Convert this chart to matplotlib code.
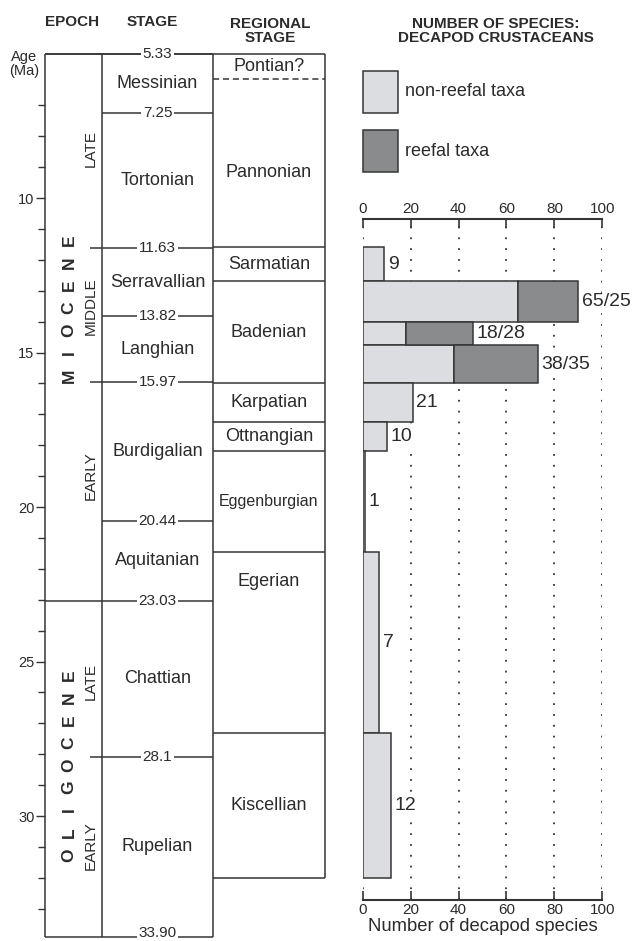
import matplotlib
matplotlib.use("Agg")
import matplotlib.pyplot as plt
from matplotlib.patches import Rectangle

plt.rcParams['font.family'] = ['Liberation Sans', 'DejaVu Sans']

# Chronostratigraphie (Alter in Ma)
stage_names = ["Messinian", "Tortonian", "Serravallian", "Langhian",
               "Burdigalian", "Aquitanian", "Chattian", "Rupelian"]
stage_bounds = [5.33, 7.25, 11.63, 13.82, 15.97, 20.44, 23.03, 28.1, 33.90]
bound_labels = ["5.33", "7.25", "11.63", "13.82", "15.97", "20.44", "23.03", "28.1", "33.90"]
bound_rank = ["top", "stage", "sub", "stage", "sub", "stage", "epoch", "sub", "bottom"]

regional_names = ["Pontian?", "Pannonian", "Sarmatian", "Badenian", "Karpatian",
                  "Ottnangian", "Eggenburgian", "Egerian", "Kiscellian"]
regional_bounds = [5.33, 6.15, 11.6, 12.7, 16.0, 17.25, 18.2, 21.45, 27.3, 32.0]

epochs = ["MIOCENE", "OLIGOCENE"]
epoch_label_age = [13.56, 28.35]
subepochs = ["LATE", "MIDDLE", "EARLY", "LATE", "EARLY"]
subepoch_label_age = [8.4, 13.5, 19.0, 25.66, 30.97]

# Artenzahlen Decapoda
bar_top = [11.6, 12.7, 14.0, 14.75, 16.0, 17.25, 18.2, 21.45, 27.3]
bar_bottom = [12.7, 14.0, 14.75, 16.0, 17.25, 18.2, 21.45, 27.3, 32.0]
non_reefal = [9, 65, 18, 38, 21, 10, 1, 7, 12]
reefal = [0, 25, 28, 35, 0, 0, 0, 0, 0]
bar_labels = ["9", "65/25", "18/28", "38/35", "21", "10", "1", "7", "12"]

# Layout
W, H = 632, 941
PX_TOP, PX_PER_MA = 53.7, 30.9
LIGHT, DARK = '#dcdde0', '#8a8b8d'
EDGE, INK = '#353535', '#2b2b2b'
LW = 1.1


def fig_y(age):
    return 1 - (PX_TOP + (age - 5.33) * PX_PER_MA) / H


def ftext(x, y, s, **kw):
    kw.setdefault('color', INK)
    fig.text(x / W, 1 - y / H, s, **kw)


fig = plt.figure(figsize=(W / 100, H / 100), dpi=100)

# --- Stratigraphische Säule ---
ax = fig.add_axes([45 / W, fig_y(33.9), 280 / W, fig_y(5.33) - fig_y(33.9)])
ax.set_xlim(0, 280)
ax.set_ylim(33.9, 5.33)
for s in ax.spines.values():
    s.set_visible(False)
ax.set_xticks([])
ax.set_yticks([10, 15, 20, 25, 30])
ax.set_yticks(range(7, 34), minor=True)
ax.tick_params(axis='y', which='major', length=6.5, width=1, color=EDGE,
               labelsize=10.5, labelcolor=INK, pad=1)
ax.tick_params(axis='y', which='minor', length=5, width=1, color=EDGE)

X_STAGE, X_SUB, X_REG, X_END = 57, 45, 168, 280
line_kw = dict(color=EDGE, lw=LW, clip_on=False)

ax.vlines([0, X_STAGE, X_REG], stage_bounds[0], stage_bounds[-1], **line_kw)
ax.vlines(X_END, regional_bounds[0], regional_bounds[-1], **line_kw)
ax.hlines(stage_bounds[0], 0, X_END, **line_kw)

start_x = {"top": 0, "stage": X_STAGE, "sub": X_SUB, "epoch": 0, "bottom": 0}
for age, lab, rank in zip(stage_bounds, bound_labels, bound_rank):
    ax.hlines(age, start_x[rank], X_REG, **line_kw)
    # unterstes Label leicht anheben, damit es nicht am Bildrand abgeschnitten wird
    ty = age - 0.1 if rank == "bottom" else age
    ax.text((X_STAGE + X_REG) / 2, ty, lab, ha='center', va='center', fontsize=11,
            color=INK, zorder=5, clip_on=False,
            bbox=dict(facecolor='white', edgecolor='none', pad=1.2))

for name, a0, a1 in zip(stage_names, stage_bounds[:-1], stage_bounds[1:]):
    ax.text((X_STAGE + X_REG) / 2, (a0 + a1) / 2, name, ha='center', va='center',
            fontsize=13, color=INK)

ax.hlines(regional_bounds[1], X_REG, X_END, color=EDGE, lw=LW, linestyles=(0, (4, 2.5)))
ax.hlines(regional_bounds[2:], X_REG, X_END, **line_kw)

reg_label_age = [(a0 + a1) / 2 for a0, a1 in zip(regional_bounds[:-1], regional_bounds[1:])]
reg_label_age[1] = 9.16   # Pannonian etwas tiefer
reg_label_age[7] = 22.4   # Egerian oben im Feld
for name, age in zip(regional_names, reg_label_age):
    fs = 11.5 if name == "Eggenburgian" else 13
    ax.text((X_REG + X_END) / 2, age, name, ha='center', va='center', fontsize=fs, color=INK)

# Epochen mit gesperrten Buchstaben
spacing = 22.5 / PX_PER_MA
for word, mid in zip(epochs, epoch_label_age):
    n = len(word)
    for i, ch in enumerate(word):
        ax.text(24, mid + ((n - 1) / 2 - i) * spacing, ch, rotation=90, ha='center',
                va='center', fontsize=12.5, fontweight='bold', color=INK)

for name, age in zip(subepochs, subepoch_label_age):
    ax.text(46, age, name, rotation=90, ha='center', va='center', fontsize=11, color=INK)

# --- Balkendiagramm ---
ax2_top, ax2_bot = 10.68, 32.72
ax2 = fig.add_axes([362.7 / W, fig_y(ax2_bot), 239.6 / W, fig_y(ax2_top) - fig_y(ax2_bot)])
ax2.set_xlim(0, 100)
ax2.set_ylim(ax2_bot, ax2_top)
ax2.set_yticks([])
ax2.set_xticks(range(0, 101, 20))
ax2.grid(axis='x', linestyle=(0, (1, 5)), color=EDGE, lw=1.3)
ax2.set_axisbelow(True)
for side in ['left', 'right']:
    ax2.spines[side].set_visible(False)
for side in ['top', 'bottom']:
    ax2.spines[side].set_color(EDGE)
    ax2.spines[side].set_linewidth(1.5)
ax2.tick_params(axis='x', top=True, labeltop=True, bottom=True, direction='in',
                length=6.5, width=1.2, color=EDGE, labelsize=11, labelcolor=INK, pad=2)

centers = [(a + b) / 2 for a, b in zip(bar_top, bar_bottom)]
heights = [b - a for a, b in zip(bar_top, bar_bottom)]
ax2.barh(centers, non_reefal, height=heights, color=LIGHT, edgecolor=EDGE, lw=LW, zorder=3)
for c, h, n, r in zip(centers, heights, non_reefal, reefal):
    if r > 0:
        ax2.barh(c, r, left=n, height=h, color=DARK, edgecolor=EDGE, lw=LW, zorder=3)
for c, n, r, lab in zip(centers, non_reefal, reefal, bar_labels):
    ax2.annotate(lab, (n + r, c), xytext=(2.5, 0), textcoords='offset points',
                 ha='left', va='center', fontsize=14, color=INK, zorder=4,
                 bbox=dict(facecolor='white', edgecolor='none', pad=0.3))

ax2.set_xlabel("Number of decapod species", fontsize=13.3, color=INK, labelpad=1)

# --- Kopfzeilen und Legende ---
ftext(72, 22, "EPOCH", ha='center', va='center', fontsize=11, fontweight='bold')
ftext(152, 22, "STAGE", ha='center', va='center', fontsize=11, fontweight='bold')
ftext(270, 31, "REGIONAL\nSTAGE", ha='center', va='center', fontsize=11,
      fontweight='bold', linespacing=1.0)
ftext(496, 31, "NUMBER OF SPECIES:\nDECAPOD CRUSTACEANS", ha='center', va='center',
      fontsize=11, fontweight='bold', linespacing=1.05)
ftext(24, 64, "Age\n(Ma)", ha='center', va='center', fontsize=10.5, linespacing=0.95)

for (y0, y1), col, txt in zip([(71, 113), (130, 172)], [LIGHT, DARK],
                              ["non-reefal taxa", "reefal taxa"]):
    fig.patches.append(Rectangle((363 / W, 1 - y1 / H), 35.5 / W, (y1 - y0) / H,
                                 transform=fig.transFigure, facecolor=col,
                                 edgecolor=EDGE, lw=LW))
    ftext(405, (y0 + y1) / 2, txt, ha='left', va='center', fontsize=13)

fig.savefig("out.png", dpi=100)
